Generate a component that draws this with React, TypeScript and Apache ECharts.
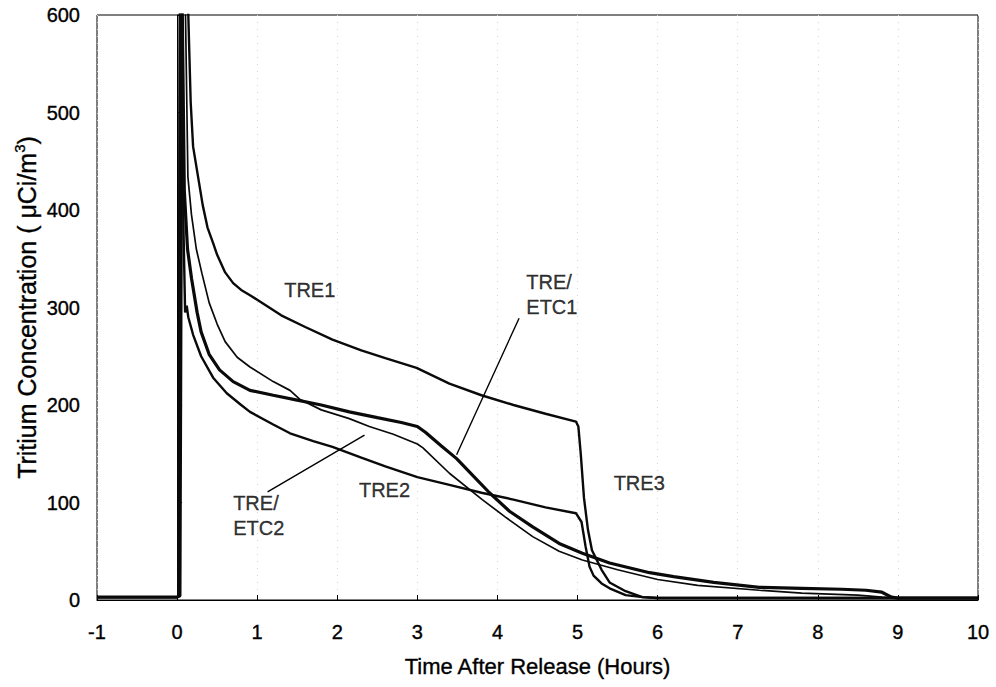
import React, { useEffect, useRef } from "react";
import * as echarts from "echarts";

type P = [number, number];

const xTicks = { min: -1, max: 10, interval: 1 };
const yTicks = { min: 0, max: 600, interval: 100 };

const tre1: P[] = [
  [-1, 3], [-0.5, 3], [0, 3], [0.04, 4], [0.07, 700], [0.12, 700], [0.14, 600], [0.17, 510],
  [0.2, 465], [0.26, 435], [0.32, 405], [0.38, 382], [0.45, 366], [0.5, 354], [0.6, 336],
  [0.7, 325], [0.8, 318], [0.9, 313], [1.0, 308], [1.3, 292], [1.6, 280], [1.94, 267], [2.3, 256],
  [2.6, 248], [2.99, 238], [3.4, 222], [3.8, 210], [4.2, 200], [4.6, 191], [4.98, 183],
  [5.01, 178], [5.04, 150], [5.08, 105], [5.13, 72], [5.18, 51], [5.3, 31], [5.4, 18],
  [5.6, 9], [5.81, 3], [6.0, 2], [7, 2], [8, 2], [9, 2], [10, 2],
];

const etc1: P[] = [
  [-1, 3], [0, 3], [0.02, 4], [0.045, 700], [0.065, 600], [0.09, 420], [0.13, 360], [0.18, 330],
  [0.25, 295], [0.3, 275], [0.4, 252], [0.53, 236], [0.7, 224], [0.91, 215], [1.2, 210],
  [1.5, 205], [1.8, 200], [2.15, 193], [2.5, 187], [2.8, 182], [3.0, 178], [3.1, 172],
  [3.3, 158], [3.49, 145], [3.7, 127], [3.9, 110], [4.15, 91], [4.44, 75], [4.77, 58],
  [5.06, 48], [5.4, 38], [5.9, 28], [6.2, 24], [6.7, 18], [7.27, 13], [7.8, 12], [8.3, 11],
  [8.6, 10], [8.8, 8], [8.92, 3], [9.0, 2], [10, 2],
];

const etc2: P[] = [
  [-1, 3], [0, 3], [0.03, 4], [0.06, 700], [0.09, 650], [0.105, 600], [0.135, 434], [0.18, 395],
  [0.24, 360], [0.31, 335], [0.4, 305], [0.5, 283], [0.6, 265], [0.75, 249], [0.91, 239],
  [1.2, 224], [1.41, 215], [1.53, 206], [1.8, 195], [2.15, 186], [2.4, 178], [2.7, 170],
  [3.0, 160], [3.07, 156], [3.4, 130], [3.81, 103], [4.1, 85], [4.44, 65], [4.77, 50],
  [5.06, 41], [5.5, 31], [6.0, 21], [6.5, 15], [7.27, 10], [7.8, 7], [8.5, 5], [8.8, 3],
  [9.0, 2], [10, 2],
];

const tre2: P[] = [
  [-1, 3], [0, 3], [0.015, 4], [0.035, 650], [0.055, 600], [0.08, 380], [0.1, 295], [0.12, 302],
  [0.14, 290], [0.2, 272], [0.3, 250], [0.45, 228], [0.62, 212], [0.8, 200], [0.91, 193],
  [1.2, 180], [1.41, 171], [1.7, 163], [1.94, 157], [2.3, 146], [2.6, 137], [3.0, 126],
  [3.4, 118], [3.8, 110], [4.2, 103], [4.6, 95], [4.98, 89], [5.05, 80], [5.1, 55],
  [5.15, 34], [5.2, 25], [5.3, 17], [5.4, 12], [5.6, 5], [5.81, 3], [6, 2], [10, 2],
];

const centerLabels = [
  { name: "TRE1", value: [1.656, 318] },
  { name: "TRE2", value: [2.59, 113] },
  { name: "TRE3", value: [5.77, 120] },
];

const leftLabels = [
  { name: "TRE/\nETC1", value: [4.36, 313] },
  { name: "TRE/\nETC2", value: [0.7, 87] },
];

const arrows: [P, P][] = [
  [[4.27, 289], [3.49, 149]],
  [[1.13, 111], [2.34, 169]],
];

const FONT = "'Liberation Sans', Arial, sans-serif";
const INK = { color: "#000", textBorderColor: "#000", textBorderWidth: 0.35 };

export default function App() {
  const ref = useRef<HTMLDivElement>(null);
  useEffect(() => {
    document.body.style.margin = "0";
    if (!ref.current) return;
    const chart = echarts.init(ref.current, undefined, { renderer: "svg" });
    const line = (name: string, data: P[], width: number) => ({
      type: "line",
      name,
      data,
      showSymbol: false,
      symbol: "none",
      clip: true,
      lineStyle: { color: "#0a0a0a", width },
      z: 3,
    });
    chart.setOption({
      animation: false,
      backgroundColor: "#fff",
      textStyle: { fontFamily: FONT, color: "#000" },
      grid: {
        left: 97,
        right: 18,
        top: 15,
        bottom: 87,
        outerBoundsMode: "none",
        containLabel: false,
        show: true,
        borderColor: "#000",
        borderWidth: 1,
        backgroundColor: "transparent",
      },
      xAxis: {
        type: "value",
        min: xTicks.min,
        max: xTicks.max,
        interval: xTicks.interval,
        name: "Time After Release (Hours)",
        nameLocation: "middle",
        nameGap: 55,
        nameMoveOverlap: false,
        nameTextStyle: { fontFamily: FONT, fontSize: 22, ...INK },
        axisLine: { show: true, lineStyle: { color: "#000", width: 1 } },
        axisTick: { show: true, inside: true, length: 5, lineStyle: { color: "#000" } },
        axisLabel: { fontFamily: FONT, fontSize: 20, margin: 22, ...INK },
        splitLine: { show: true, lineStyle: { color: "#d4d4d4", type: [1, 6], width: 1 } },
      },
      yAxis: {
        type: "value",
        min: yTicks.min,
        max: yTicks.max,
        interval: yTicks.interval,
        name: "Tritium Concentration ( μCi/m{sup|3})",
        nameLocation: "middle",
        nameGap: 55,
        nameMoveOverlap: false,
        nameRotate: 90,
        nameTextStyle: {
          fontFamily: FONT,
          fontSize: 25,
          lineHeight: 30,
          ...INK,
          rich: {
            sup: { fontFamily: FONT, fontSize: 15, verticalAlign: "top", lineHeight: 30, ...INK },
          },
        },
        axisLine: { show: true, lineStyle: { color: "#000", width: 1 } },
        axisTick: { show: true, inside: true, length: 5, lineStyle: { color: "#000" } },
        axisLabel: { fontFamily: FONT, fontSize: 20, margin: 17, ...INK },
        splitLine: { show: false },
      },
      series: [
        line("TRE1", tre1, 2.4),
        line("TRE/ETC1", etc1, 3.2),
        line("TRE/ETC2", etc2, 1.7),
        {
          ...line("TRE2", tre2, 2.4),
          markLine: {
            silent: true,
            symbol: ["none", "arrow"],
            symbolSize: [0, 11],
            label: { show: false },
            lineStyle: { color: "#000", width: 1.4, type: "solid" },
            data: arrows.map(([a, b]) => [{ coord: a }, { coord: b }]),
          },
        },
        {
          type: "scatter",
          data: centerLabels,
          symbolSize: 0,
          silent: true,
          z: 5,
          label: {
            show: true,
            position: "inside",
            formatter: "{b}",
            fontFamily: FONT,
            fontSize: 20,
            ...INK,
            align: "center",
            verticalAlign: "middle",
          },
        },
        {
          type: "scatter",
          data: leftLabels,
          symbolSize: 0,
          silent: true,
          z: 5,
          label: {
            show: true,
            position: "inside",
            formatter: "{b}",
            fontFamily: FONT,
            fontSize: 20,
            lineHeight: 25,
            ...INK,
            align: "left",
            verticalAlign: "middle",
          },
        },
      ],
    });
    return () => chart.dispose();
  }, []);
  return <div ref={ref} style={{ width: 996, height: 687 }} />;
}
